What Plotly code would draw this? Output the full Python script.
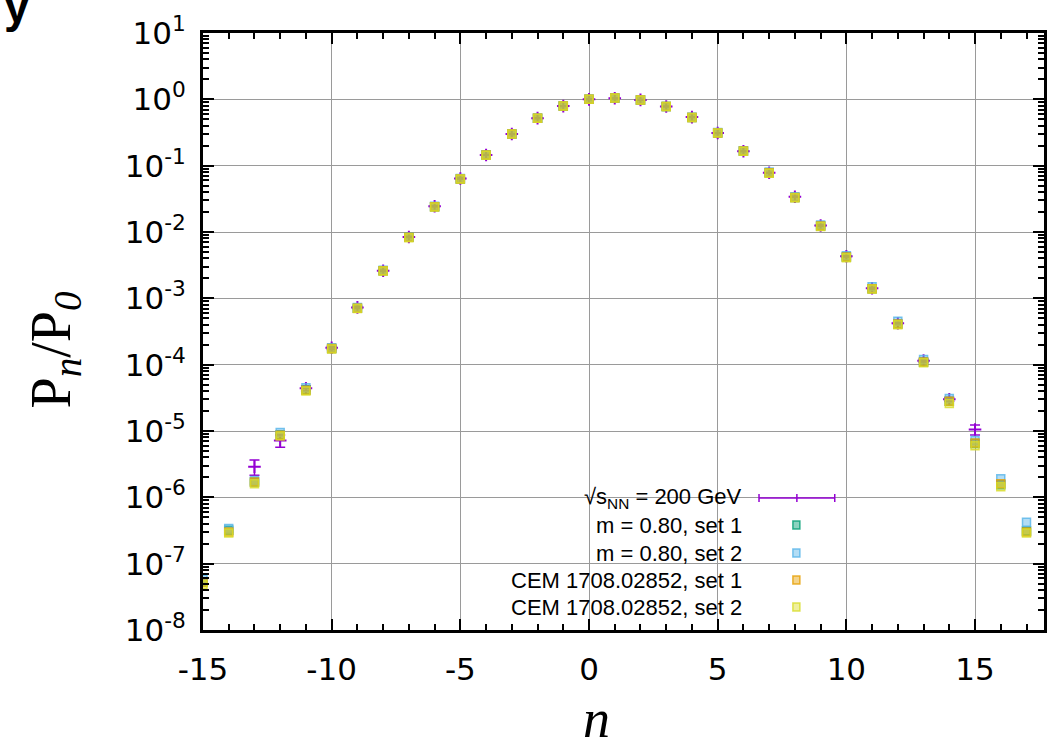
import plotly.graph_objects as go

# ---------------- data ----------------
n_model = list(range(-15, 18))

m080_set1 = [5.3e-8, 3.2e-7, 1.7e-6, 8.8e-6, 4.2e-5, 1.75e-4, 7.1e-4, 2.6e-3, 8.3e-3, 0.024,
             0.063, 0.145, 0.30, 0.52, 0.79, 1.0, 1.05, 0.98, 0.78, 0.53,
             0.31, 0.166, 0.078, 0.033, 0.0123, 4.2e-3, 1.4e-3, 4.1e-4, 1.1e-4, 2.8e-5,
             6.5e-6, 1.55e-6, 3.1e-7]
m080_set2 = [5.8e-8, 3.4e-7, 1.8e-6, 9.5e-6, 4.5e-5, 1.8e-4, 7.3e-4, 2.65e-3, 8.4e-3, 0.0245,
             0.064, 0.146, 0.30, 0.52, 0.79, 1.0, 1.05, 0.98, 0.78, 0.535,
             0.315, 0.168, 0.080, 0.034, 0.0128, 4.4e-3, 1.5e-3, 4.5e-4, 1.2e-4, 3.1e-5,
             7.2e-6, 1.9e-6, 4.2e-7]
cem_set1 = [5.2e-8, 3.0e-7, 1.7e-6, 8.6e-6, 4.1e-5, 1.75e-4, 7.1e-4, 2.6e-3, 8.3e-3, 0.024,
            0.063, 0.145, 0.30, 0.52, 0.79, 1.0, 1.05, 0.98, 0.78, 0.53,
            0.31, 0.166, 0.078, 0.033, 0.0123, 4.2e-3, 1.4e-3, 4.1e-4, 1.1e-4, 2.8e-5,
            6.6e-6, 1.6e-6, 3.0e-7]
cem_set2 = [4.8e-8, 2.9e-7, 1.6e-6, 8.4e-6, 4.0e-5, 1.72e-4, 7.0e-4, 2.58e-3, 8.2e-3, 0.0238,
            0.063, 0.144, 0.30, 0.52, 0.79, 1.0, 1.05, 0.98, 0.78, 0.53,
            0.31, 0.165, 0.077, 0.0328, 0.0121, 4.1e-3, 1.38e-3, 4.0e-4, 1.07e-4, 2.6e-5,
            6.0e-6, 1.45e-6, 2.9e-7]

n_data = list(range(-13, 16))
data_200 = [2.9e-6, 7.2e-6, 4.4e-5, 1.8e-4, 7.3e-4, 2.6e-3, 8.4e-3, 0.0245, 0.064, 0.145,
            0.30, 0.52, 0.79, 1.0, 1.04, 0.98, 0.78, 0.54, 0.31, 0.165,
            0.078, 0.034, 0.0125, 4.3e-3, 1.42e-3, 4.2e-4, 1.15e-4, 3.0e-5, 1.05e-5]
data_err = [0.75e-6, 1.5e-6, 0.4e-5, 0.1e-4, 0.3e-4, 0.06e-3, 0.15e-3, 0.0004, 0.001, 0.002,
            0.004, 0.006, 0.008, 0.01, 0.01, 0.01, 0.008, 0.006, 0.004, 0.002,
            0.0012, 0.0006, 0.0003, 0.1e-3, 0.04e-3, 0.15e-4, 0.06e-4, 0.2e-5, 0.18e-5]

legend_labels = ["√s<sub>NN</sub> = 200 GeV", "m = 0.80, set 1", "m = 0.80, set 2",
                 "CEM 1708.02852, set 1", "CEM 1708.02852, set 2"]

y_tickvals = [1e-8, 1e-7, 1e-6, 1e-5, 1e-4, 1e-3, 1e-2, 1e-1, 1e0, 1e1]
y_ticktext = ["10<sup>-8</sup>", "10<sup>-7</sup>", "10<sup>-6</sup>", "10<sup>-5</sup>",
              "10<sup>-4</sup>", "10<sup>-3</sup>", "10<sup>-2</sup>", "10<sup>-1</sup>",
              "10<sup>0</sup>", "10<sup>1</sup>"]
x_tickvals = [-15, -10, -5, 0, 5, 10, 15]
x_ticktext = ["-15", "-10", "-5", "0", "5", "10", "15"]

# ---------------- layout geometry ----------------
W, H = 1050, 751
L, R, T, B = 203, 1047, 33, 630


def px(x):
    return (x - L) / (R - L)


def py(y):
    return (B - y) / (B - T)


C_DATA = "#9400d3"
MODEL_STYLES = [
    ("rgba(0,158,115,0.45)", "rgba(0,158,115,0.8)"),
    ("rgba(86,180,233,0.45)", "rgba(86,180,233,0.8)"),
    ("rgba(230,159,0,0.45)", "rgba(230,159,0,0.8)"),
    ("rgba(220,220,40,0.45)", "rgba(215,220,40,0.8)"),
]

fig = go.Figure()

fig.add_trace(go.Scatter(
    x=n_data, y=data_200, mode="markers",
    marker=dict(symbol="cross-thin-open", size=9, color=C_DATA, line=dict(width=2, color=C_DATA)),
    error_y=dict(type="data", array=data_err, visible=True, color=C_DATA, thickness=1.5, width=5),
    showlegend=False))

for vals, (fillc, linec) in zip([m080_set1, m080_set2, cem_set1, cem_set2], MODEL_STYLES):
    fig.add_trace(go.Scatter(
        x=n_model, y=vals, mode="markers",
        marker=dict(symbol="square", size=8, color=fillc, line=dict(width=1.5, color=linec)),
        showlegend=False))

tickfont = dict(family="DejaVu Sans", size=31, color="black")

fig.update_xaxes(
    range=[-15, 17.68], tickvals=x_tickvals, ticktext=x_ticktext, tickfont=tickfont,
    showline=True, linecolor="black", linewidth=3, mirror="ticks",
    ticks="inside", ticklen=11, tickwidth=2, tickcolor="black",
    showgrid=True, gridcolor="#9a9a9a", gridwidth=1.2, zeroline=False,
    minor=dict(ticks="inside", ticklen=6, tickwidth=1.5, tickcolor="black", dtick=1, showgrid=False),
    ticklabelstandoff=10)

fig.update_yaxes(
    type="log", range=[-8, 1], tickvals=y_tickvals, ticktext=y_ticktext, tickfont=tickfont,
    showline=True, linecolor="black", linewidth=3, mirror="ticks",
    ticks="inside", ticklen=11, tickwidth=2, tickcolor="black",
    showgrid=True, gridcolor="#9a9a9a", gridwidth=1.2, zeroline=False,
    minor=dict(ticks="inside", ticklen=6, tickwidth=1.5, tickcolor="black", dtick="D1", showgrid=False),
    ticklabelstandoff=8)

shapes = []
# opaque key background
shapes.append(dict(type="rect", xref="paper", yref="paper", x0=px(402), x1=px(849),
                   y0=py(630), y1=py(478), fillcolor="white", line=dict(width=0), layer="between"))

annotations = []
rows = [498, 525, 553, 580, 607]
for lab, yy in zip(legend_labels, rows):
    annotations.append(dict(text=lab, xref="paper", yref="paper", x=px(746), y=py(yy),
                            xanchor="right", yanchor="middle", showarrow=False,
                            font=dict(family="Liberation Sans", size=22, color="black")))

# key sample: error bar
shapes.append(dict(type="line", xref="paper", yref="paper", x0=px(761), x1=px(837),
                   y0=py(rows[0]), y1=py(rows[0]), line=dict(color=C_DATA, width=1.5)))
for xc in (761, 799, 837):
    shapes.append(dict(type="line", xref="paper", yref="paper", x0=px(xc), x1=px(xc),
                       y0=py(rows[0] - 4), y1=py(rows[0] + 4), line=dict(color=C_DATA, width=1.5)))
# key samples: squares
for (fillc, linec), yy in zip(MODEL_STYLES, rows[1:]):
    shapes.append(dict(type="rect", xref="paper", yref="paper", x0=px(795), x1=px(802),
                       y0=py(yy + 4), y1=py(yy - 4), fillcolor=fillc, line=dict(color=linec, width=1.5)))

# axis titles
annotations.append(dict(text="P<sub><i>n</i></sub>/P<sub><i>0</i></sub>", xref="paper", yref="paper",
                        x=px(54), y=py(350), textangle=-90, showarrow=False,
                        xanchor="center", yanchor="middle",
                        font=dict(family="Liberation Serif", size=56, color="black")))
annotations.append(dict(text="<i>n</i>", xref="paper", yref="paper", x=px(598), y=py(719),
                        showarrow=False, xanchor="center", yanchor="middle",
                        font=dict(family="Liberation Serif", size=54, color="black")))
# cut-off letter at top-left corner
annotations.append(dict(text="<b>y</b>", xref="paper", yref="paper", x=px(16), y=py(6),
                        showarrow=False, xanchor="center", yanchor="middle",
                        font=dict(family="Liberation Sans", size=46, color="black")))

fig.update_layout(
    width=W, height=H, margin=dict(l=L, r=W - R, t=T, b=H - B),
    paper_bgcolor="white", plot_bgcolor="white",
    shapes=shapes, annotations=annotations, showlegend=False)

fig.write_html("out.html")
